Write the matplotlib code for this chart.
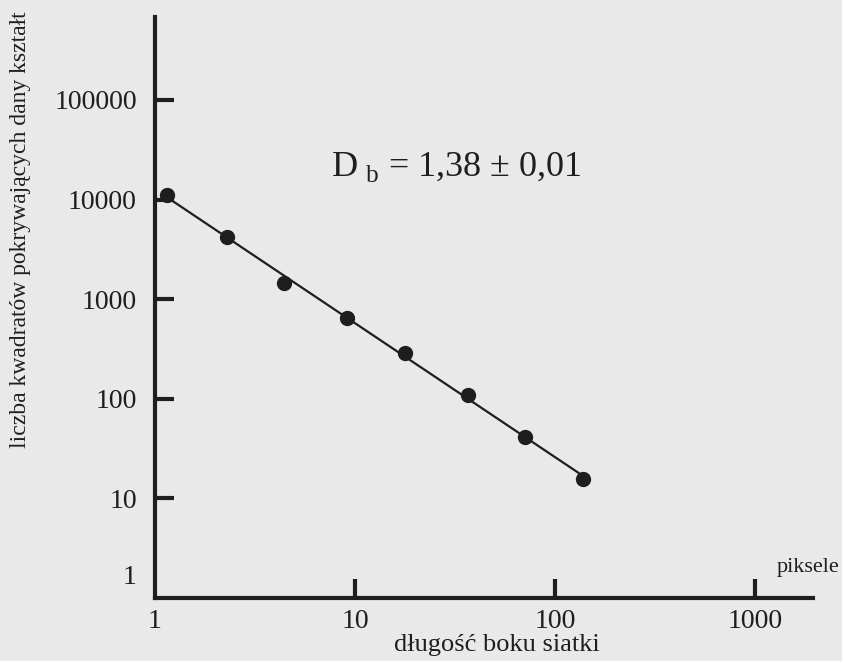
import numpy as np
import matplotlib
matplotlib.use('Agg')
import matplotlib.pyplot as plt

# box-counting data
box_size = [1.15, 2.3, 4.4, 9.1, 17.8, 36.7, 71, 138]
box_count = [11100, 4200, 1450, 650, 290, 110, 41, 15.7]
x_ticks = [1, 10, 100, 1000]
x_ticklabels = ['1', '10', '100', '1000']
y_ticks = [10, 100, 1000, 10000, 100000]
y_ticklabels = ['10', '100', '1000', '10000', '100000']

bg = '#e9e9e9'
ink = '#1e1e1e'
plt.rcParams['font.family'] = ['Liberation Serif', 'DejaVu Serif']
plt.rcParams['mathtext.fontset'] = 'custom'
plt.rcParams['mathtext.rm'] = 'Liberation Serif'

fig = plt.figure(figsize=(8.42, 6.61), dpi=100, facecolor=bg)
ax = fig.add_axes([0.184, 0.0953, 0.7816, 0.879])
ax.set_facecolor(bg)
ax.set_xscale('log')
ax.set_yscale('log')
ax.set_xlim(1, 1950)
ax.set_ylim(1, 680000)

# fitted line (log-log regression)
lx = np.log10(box_size)
ly = np.log10(box_count)
slope, icpt = np.polyfit(lx, ly, 1)
xf = np.array([box_size[0], box_size[-1]])
ax.plot(xf, 10 ** (icpt + slope * np.log10(xf)), color=ink, lw=1.6, zorder=2)
ax.plot(box_size, box_count, 'o', color=ink, ms=10, zorder=3)

for s in ['top', 'right']:
    ax.spines[s].set_visible(False)
for s in ['left', 'bottom']:
    ax.spines[s].set_linewidth(3)
    ax.spines[s].set_color(ink)

ax.minorticks_off()
ax.set_xticks(x_ticks)
ax.set_xticklabels(x_ticklabels)
ax.set_yticks(y_ticks)
ax.set_yticklabels(y_ticklabels)
ax.tick_params(axis='both', direction='in', length=14, width=3, color=ink,
               labelsize=20, labelcolor=ink)
ax.tick_params(axis='y', pad=13)
ax.tick_params(axis='x', pad=8)
ax.xaxis.get_major_ticks()[0].tick1line.set_visible(False)

# "1" on the y axis sits just above the corner
ax.text(-0.028, 1.6, '1', transform=ax.get_yaxis_transform(), ha='right',
        va='center', fontsize=20, color=ink)

ax.text(32, 2.1e4, r'D$_{\ \mathregular{b}}$ = 1,38 ± 0,01', fontsize=26, color=ink,
        ha='center', va='center')

fig.text(0.024, 0.652, 'liczba kwadratów pokrywających dany kształt', rotation=90,
         ha='center', va='center', fontsize=17, color=ink)
fig.text(0.59, 0.024, 'długość boku siatki', ha='center', va='center',
         fontsize=19, color=ink)
fig.text(0.997, 0.141, 'piksele', ha='right', va='center', fontsize=16, color=ink)

fig.savefig('out.png', dpi=100, facecolor=bg)
